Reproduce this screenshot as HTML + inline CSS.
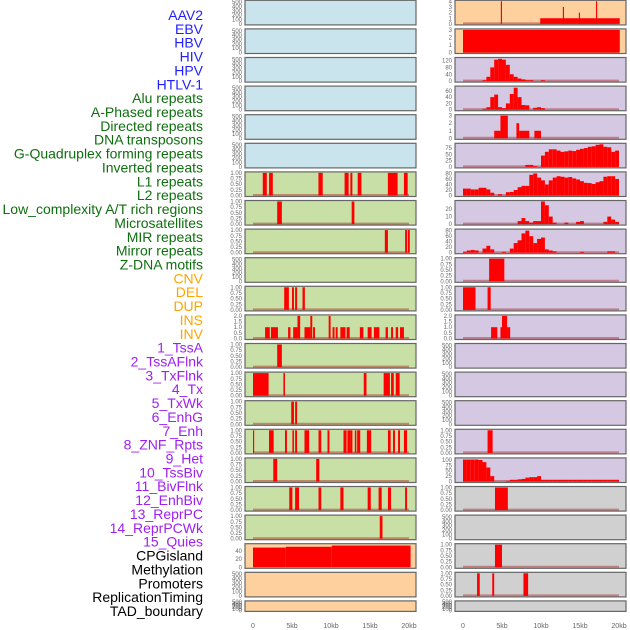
<!DOCTYPE html>
<html><head><meta charset="utf-8"><style>
body{margin:0;background:#fff;}
svg{display:block;font-family:"Liberation Sans",sans-serif;}
</style></head><body>
<svg id="chart" width="630" height="630" viewBox="0 0 630 630"></svg>
<script>
// ---- data (kb positions, values) ----
const trackLabels = ["AAV2","EBV","HBV","HIV","HPV","HTLV-1","Alu repeats","A-Phased repeats","Directed repeats","DNA transposons","G-Quadruplex forming repeats","Inverted repeats","L1 repeats","L2 repeats","Low_complexity A/T rich regions","Microsatellites","MIR repeats","Mirror repeats","Z-DNA motifs","CNV","DEL","DUP","INS","INV","1_TssA","2_TssAFlnk","3_TxFlnk","4_Tx","5_TxWk","6_EnhG","7_Enh","8_ZNF_Rpts","9_Het","10_TssBiv","11_BivFlnk","12_EnhBiv","13_ReprPC","14_ReprPCWk","15_Quies","CPGisland","Methylation","Promoters","ReplicationTiming","TAD_boundary"];
const labelGroups = [6,13,5,15,5];
const groupColors = ["#1f1fff","#0f6f0f","#ffa500","#a020f0","#000000"];
const xTickLabels = ["0","5kb","10kb","15kb","20kb"];
const xTickValues = [0,5,10,15,20];
const emptyTicks = [0,100,200,300,400,500];
const unitTicks = [0,0.25,0.5,0.75,1];
const twoTicks = [0,0.5,1,1.5,2];

// bars: [start kb, end kb, value]
const l6Bars = [[1.25,1.77,1],[2.06,2.54,1],[8.39,8.94,1],[11.74,12.26,1],[12.48,12.74,1],[13.42,13.9,1],[17.29,18.54,1],[19.35,19.83,1]];
const l7Bars = [[3.1,3.7,1],[12.65,13.0,1]];
const l8Bars = [[16.9,17.3,1],[19.5,19.75,1],[19.85,20.1,1]];
const l10Bars = [[4.0,4.6,1],[5.0,5.25,1],[5.4,5.65,1],[6.35,6.65,1]];
const l11Bars = [[1.55,2.15,1],[2.3,3.2,1],[4.5,4.8,1],[5.15,5.7,1],[5.7,6.05,2],[6.6,7.35,1],[7.35,7.6,2],[7.7,7.95,1],[9.7,9.95,2],[10.2,10.45,1],[10.6,10.85,1],[11.2,11.85,1],[12.0,12.4,1],[13.7,14.15,1],[14.7,15.2,1],[15.5,16.2,1],[17.0,17.3,1],[17.7,17.95,1],[18.3,18.6,1],[18.85,19.35,1]];
const l12Bars = [[3.1,3.7,1]];
const l13Bars = [[0,2.0,1],[3.9,4.1,1],[14.2,14.55,1],[16.75,17.55,1],[17.7,18.05,1],[18.3,18.8,1]];
const l14Bars = [[4.9,5.25,1],[5.4,5.65,1]];
const l15Bars = [[0,0.15,1],[2.05,2.65,1],[4.1,4.35,1],[5.05,5.25,1],[5.4,5.65,1],[6.6,7.2,1],[8.4,8.75,1],[9.55,9.8,1],[11.6,12.0,1],[12.1,12.45,1],[12.45,12.75,1],[13.05,13.25,1],[13.35,13.75,1],[14.6,15.15,1],[17.3,17.65,1],[17.95,18.2,1],[18.6,18.85,1],[19.35,19.75,1]];
const l16Bars = [[2.6,3.1,1],[8.1,8.5,1]];
const l17Bars = [[4.65,5.05,1],[5.4,5.9,1],[8.4,8.75,1],[11.2,11.6,1],[14.7,15.1,1],[16.1,16.5,1],[17.3,17.7,1],[19.5,19.75,1]];
const l18Bars = [[16.25,16.6,1]];
const l19Bars = [[0,4.2,48],[4.2,10.1,50],[10.1,20.2,53]];
const r0Bars = [[9.9,20.1,1],[4.85,5.0,4],[12.8,12.95,3],[14.85,15.0,2],[17.05,17.2,4]];
const r1Bars = [[0,20.1,3]];
const r4Bars = [[4.0,4.8,1],[4.8,5.75,3],[6.85,7.2,2],[7.2,8.5,1],[9.15,10.0,1]];
const r9Bars = [[3.35,5.3,1]];
const r10Bars = [[0,1.6,1],[3.15,3.55,1]];
const r11Bars = [[3.6,4.4,1],[4.8,5.0,1],[5.0,5.65,2],[5.65,6.05,1]];
const r15Bars = [[3.15,3.8,1]];
const r17Bars = [[4.1,5.75,1]];
const r19Bars = [[4.1,5.0,1]];
const r20Bars = [[1.8,2.15,1],[3.75,4.0,1],[7.75,8.35,1]];

// histograms: 40 bins of 0.5 kb
const r2Hist = [0,0,0,0,0,5,25,80,125,130,125,95,40,25,15,10,5,5,0,0,5,0,0,0,0,0,0,0,0,0,0,0,0,0,0,0,0,0,0,0];
const r3Hist = [0,0,0,0,0,3,8,40,48,8,5,20,50,70,40,15,14,0,6,8,5,0,0,0,0,0,0,0,0,0,0,0,0,0,0,0,0,0,0,0];
const r5Hist = [0,0,0,0,0,0,0,0,0,0,0,0,0,0,0,0,8,8,3,0,45,60,70,70,65,60,62,65,63,68,72,75,80,82,88,90,80,78,60,65];
const r6Hist = [25,25,22,22,28,28,22,10,0,5,0,12,13,20,30,35,35,75,80,65,55,40,55,65,70,68,65,67,62,58,52,46,45,42,48,52,68,70,70,60];
const r7Hist = [0,0,0,0,0,0,0,0,0,0,0,0,0,0,4,8,4,2,4,4,30,25,10,2,0,0,2,0,0,3,4,0,0,0,0,0,3,10,6,3];
const r8Hist = [3,8,10,8,0,15,25,12,0,0,3,0,15,35,45,70,80,60,35,50,55,12,8,5,0,0,0,0,0,0,3,0,0,0,0,0,0,5,5,0];
const r16Hist = [102,102,102,102,100,90,65,25,0,0,0,3,8,8,10,12,18,20,20,25,8,8,8,8,8,8,8,8,8,8,8,8,8,8,8,8,8,8,8,8];

// ---- layout ----
const BLUE="#c9e4ec",GREEN="#c8e0a5",LAV="#d5c8e3",ORANGE="#fdd09e",GRAY="#d0d0d0";
const panels = [
 {c:0,r:0,bg:BLUE},{c:0,r:1,bg:BLUE},{c:0,r:2,bg:BLUE},{c:0,r:3,bg:BLUE},{c:0,r:4,bg:BLUE},{c:0,r:5,bg:BLUE},
 {c:0,r:6,bg:GREEN,bars:l6Bars,ymax:1,ticks:unitTicks,dec:2},
 {c:0,r:7,bg:GREEN,bars:l7Bars,ymax:1,ticks:unitTicks,dec:2},
 {c:0,r:8,bg:GREEN,bars:l8Bars,ymax:1,ticks:unitTicks,dec:2},
 {c:0,r:9,bg:GREEN},
 {c:0,r:10,bg:GREEN,bars:l10Bars,ymax:1,ticks:unitTicks,dec:2},
 {c:0,r:11,bg:GREEN,bars:l11Bars,ymax:2,ticks:twoTicks,dec:1},
 {c:0,r:12,bg:GREEN,bars:l12Bars,ymax:1,ticks:unitTicks,dec:2},
 {c:0,r:13,bg:GREEN,bars:l13Bars,ymax:1,ticks:unitTicks,dec:2},
 {c:0,r:14,bg:GREEN,bars:l14Bars,ymax:1,ticks:unitTicks,dec:2},
 {c:0,r:15,bg:GREEN,bars:l15Bars,ymax:1,ticks:unitTicks,dec:2},
 {c:0,r:16,bg:GREEN,bars:l16Bars,ymax:1,ticks:unitTicks,dec:2},
 {c:0,r:17,bg:GREEN,bars:l17Bars,ymax:1,ticks:unitTicks,dec:2},
 {c:0,r:18,bg:GREEN,bars:l18Bars,ymax:1,ticks:unitTicks,dec:2},
 {c:0,r:19,bg:ORANGE,bars:l19Bars,ymax:55,ticks:[0,20,40],dec:0,nobase:true},
 {c:0,r:20,bg:ORANGE},{c:0,r:21,bg:ORANGE},
 {c:1,r:0,bg:ORANGE,bars:r0Bars,ymax:4,ticks:[0,1,2,3,4],dec:0},
 {c:1,r:1,bg:ORANGE,bars:r1Bars,ymax:3,ticks:[0,1,2,3],dec:0},
 {c:1,r:2,bg:LAV,hist:r2Hist,ymax:132,ticks:[0,40,80,120],dec:0},
 {c:1,r:3,bg:LAV,hist:r3Hist,ymax:72,ticks:[0,20,40,60],dec:0},
 {c:1,r:4,bg:LAV,bars:r4Bars,ymax:3,ticks:[0,1,2,3],dec:0},
 {c:1,r:5,bg:LAV,hist:r5Hist,ymax:90,ticks:[0,25,50,75],dec:0},
 {c:1,r:6,bg:LAV,hist:r6Hist,ymax:82,ticks:[0,20,40,60,80],dec:0},
 {c:1,r:7,bg:LAV,hist:r7Hist,ymax:30,ticks:[0,10,20],dec:0},
 {c:1,r:8,bg:LAV,hist:r8Hist,ymax:82,ticks:[0,20,40,60,80],dec:0},
 {c:1,r:9,bg:LAV,bars:r9Bars,ymax:1,ticks:unitTicks,dec:2},
 {c:1,r:10,bg:LAV,bars:r10Bars,ymax:1,ticks:unitTicks,dec:2},
 {c:1,r:11,bg:LAV,bars:r11Bars,ymax:2,ticks:twoTicks,dec:1},
 {c:1,r:12,bg:LAV},{c:1,r:13,bg:LAV},{c:1,r:14,bg:LAV},
 {c:1,r:15,bg:LAV,bars:r15Bars,ymax:1,ticks:unitTicks,dec:2},
 {c:1,r:16,bg:LAV,hist:r16Hist,ymax:105,ticks:[0,25,50,75,100],dec:0},
 {c:1,r:17,bg:GRAY,bars:r17Bars,ymax:1,ticks:unitTicks,dec:2},
 {c:1,r:18,bg:GRAY},
 {c:1,r:19,bg:GRAY,bars:r19Bars,ymax:1,ticks:unitTicks,dec:2},
 {c:1,r:20,bg:GRAY,bars:r20Bars,ymax:1,ticks:unitTicks,dec:2},
 {c:1,r:21,bg:GRAY}
];
const NS="http://www.w3.org/2000/svg";
const svg=document.getElementById('chart');
function mk(tag,attrs,parent){const e=document.createElementNS(NS,tag);for(const k in attrs)e.setAttribute(k,attrs[k]);(parent||svg).appendChild(e);return e;}
const PX0=[245,455], PW=171, X0=[253,463], KB=156/20;
function xScale(c,kb){return X0[c]+kb*KB;}
function rowTop(r){return r*28.6+0.3;}
function rowH(r){return r===21?10.5:24.6;}
function yScale(p,v){const t=rowTop(p.r),h=rowH(p.r);return t+h-1-v/p.ymax*(h-2);}

// labels
let li=0;
labelGroups.forEach((n,g)=>{for(let k=0;k<n;k++){const t=mk('text',{x:203,y:20+li*13.86,'text-anchor':'end','font-size':14,fill:groupColors[g]});t.textContent=trackLabels[li];


li++;}});

panels.forEach(p=>{
  const g=mk('g',{});
  
  
  const t=rowTop(p.r),h=rowH(p.r),x=PX0[p.c];
  mk('rect',{x:x,y:t,width:PW,height:h,fill:p.bg},g);
  const ticks=p.ticks||emptyTicks;
  const ymax=p.ymax||520;
  const pp={r:p.r,ymax:ymax};
  ticks.forEach(v=>{const tt=mk('text',{x:x-3,y:yScale(pp,v)+2,'text-anchor':'end','font-size':6,fill:'#666'},g);tt.textContent=p.ticks?v.toFixed(p.dec):String(v);
    
    });
  if(p.bars||p.hist){
    if(!p.nobase){const bl=mk('line',{x1:xScale(p.c,0),x2:xScale(p.c,20),y1:t+h-1.5,y2:t+h-1.5,stroke:'rgba(170,30,30,0.45)','stroke-width':2},g);
      
      }
    const list=p.bars?p.bars:p.hist.map((v,i)=>[i*0.5,i*0.5+0.5,v]);
    list.forEach(b=>{if(b[2]<=0)return;const y=yScale(pp,b[2]);const x1=xScale(p.c,b[0]),x2=xScale(p.c,b[1]);
      const rc=mk('rect',{x:x1,y:y,width:Math.max(x2-x1,1),height:t+h-1-y,fill:'#ff0000'},g);
      
      });
  }
  mk('rect',{x:x,y:t,width:PW,height:h,fill:'none',stroke:'#666','stroke-width':1.2},g);
});
// x axes
[0,1].forEach(c=>{xTickValues.forEach((v,i)=>{const tt=mk('text',{x:xScale(c,v),y:628,'text-anchor':'middle','font-size':7,fill:'#666'});tt.textContent=xTickLabels[i];
  
  });});
</script>
</body></html>
